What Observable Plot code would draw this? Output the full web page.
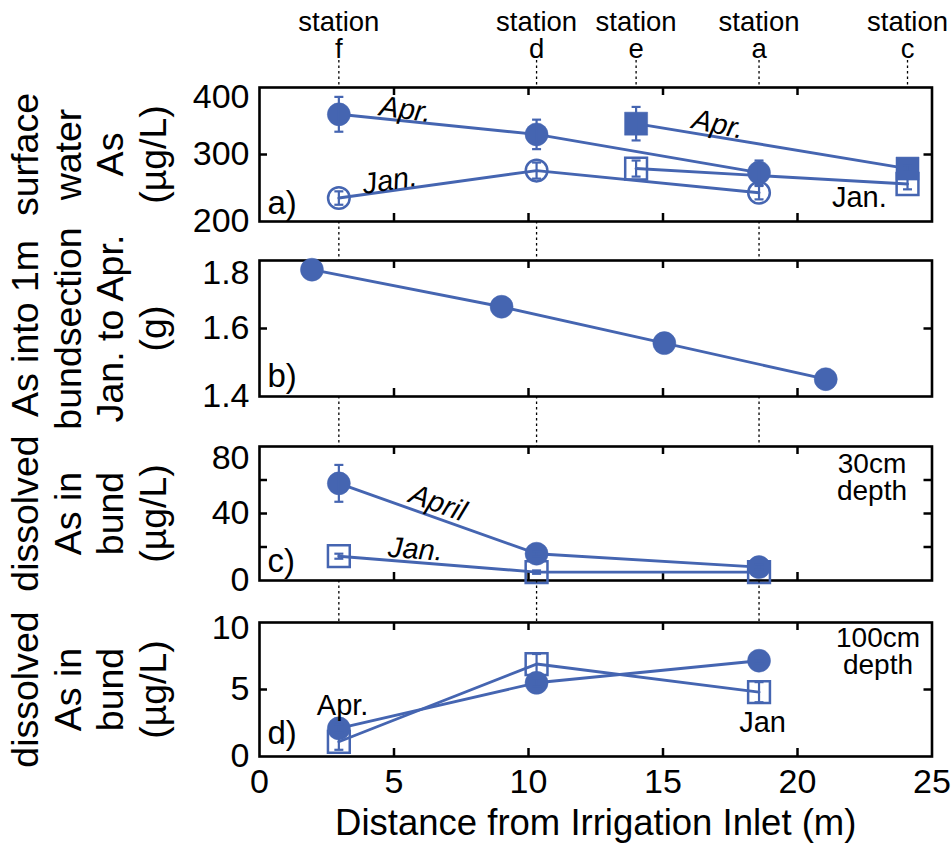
<!DOCTYPE html>
<html><head><meta charset="utf-8">
<script src="https://cdn.jsdelivr.net/npm/d3@7"></script>
<script src="https://cdn.jsdelivr.net/npm/@observablehq/plot@0.6"></script>
<style>
body{margin:0;background:#fff;}
#chart{position:relative;width:952px;height:843px;background:#fff;}
#chart svg{position:absolute;left:0;}
</style></head><body><div id="chart"></div>
<script>
// ---------- data ----------
const stationNames = ["f", "d", "e", "a", "c"];
const stationX = [2.95, 10.3, 14.0, 18.57, 24.09];
const xTicks = [0, 5, 10, 15, 20, 25];

// panel a) surface water As (µg/L)
const aCircleStations = ["f", "d", "a"];
const aAprCircle = [360, 330, 273];
const aAprCircleErr = [26, 22, 18];
const aJanCircle = [235, 276, 243];
const aJanCircleErr = [10, 12, 10];
const aSquareStations = ["e", "c"];
const aAprSquare = [346, 279];
const aAprSquareErr = [25, 5];
const aJanSquare = [279, 256];
const aJanSquareErr = [12, 8];
const aYTicks = [200, 300, 400];

// panel b) As into 1m bundsection Jan. to Apr. (g)
const bX = [1.95, 9.0, 15.05, 21.05];
const bY = [1.773, 1.664, 1.557, 1.451];
const bYTicks = [1.4, 1.6, 1.8];

// panel c) dissolved As in bund, 30cm depth (µg/L)
const cStations = ["f", "d", "a"];
const cApr = [58, 16, 8];
const cAprErr = [11, 1.5, 1.5];
const cJan = [14.5, 5, 5];
const cJanErr = [1.5, 1, 1];
const cYTicks = [0, 20, 40, 60, 80];
const cYLabels = [0, 40, 80];

// panel d) dissolved As in bund, 100cm depth (µg/L)
const dStations = ["f", "d", "a"];
const dApr = [2.1, 5.5, 7.15];
const dAprErr = [0.3, 0.3, 0.2];
const dJan = [1.1, 6.9, 4.8];
const dJanErr = [0.6, 0.75, 0.75];
const dYTicks = [0, 5, 10];

// annotations
const aNotesItalic = [
  {x: 5.43, y: 367, text: "Apr.", rotate: 8},
  {x: 17.05, y: 345, text: "Apr.", rotate: 12},
  {x: 4.84, y: 261, text: "Jan.", rotate: -9}
];
const aNotes = [{x: 22.3, y: 235, text: "Jan.", rotate: 0}];
const cNotesItalic = [
  {x: 6.63, y: 46.3, text: "April", rotate: 20},
  {x: 5.8, y: 18.5, text: "Jan.", rotate: 4}
];
const dNotes = [
  {x: 3.09, y: 3.8, text: "Apr.", rotate: 0},
  {x: 18.7, y: 2.5, text: "Jan", rotate: 0}
];

// ---------- styling ----------
const blue = "#4565b1";
const FONT = "'Liberation Sans', Arial, Helvetica, sans-serif";
const W = 952, ML = 259, MR = 20.5, PW = W - ML - MR;
const sx = Object.fromEntries(stationNames.map((n, i) => [n, stationX[i]]));
const capSymbol = {draw(ctx, size) { const r = Math.sqrt(size / Math.PI); ctx.moveTo(-r, 0); ctx.lineTo(r, 0); }};

function rows(xs, ys, es) { return xs.map((x, i) => ({x, y: ys[i], e: es ? es[i] : 0})); }

function series(data, {symbol, filled, err = true}) {
  const r = symbol === "square" ? (filled ? 13 : 12.3) : (filled ? 11.5 : 10.8);
  const m = [
    Plot.line(data, {x: "x", y: "y", stroke: blue, strokeWidth: 2.9}),
    filled
      ? Plot.dot(data, {x: "x", y: "y", symbol, r, fill: blue, stroke: blue, strokeWidth: 0.5})
      : Plot.dot(data, {x: "x", y: "y", symbol, r, fill: "none", stroke: blue, strokeWidth: 2.5})
  ];
  if (err) {
    m.push(
      Plot.ruleX(data, {x: "x", y1: d => d.y - d.e, y2: d => d.y + d.e, stroke: blue, strokeWidth: 2.2}),
      Plot.dot(data, {x: "x", y: d => d.y + d.e, symbol: capSymbol, r: 4.5, stroke: blue, strokeWidth: 2.2}),
      Plot.dot(data, {x: "x", y: d => d.y - d.e, symbol: capSymbol, r: 4.5, stroke: blue, strokeWidth: 2.2})
    );
  }
  return m;
}

function panel(cfg) {
  const H = cfg.marginTop + cfg.plotH + cfg.marginBottom;
  const yInner = cfg.yTicks.slice(1, -1);
  const labelsLow = cfg.yLabels.slice(0, -1);
  const labelTop = cfg.yLabels.slice(-1);
  const marks = [
    Plot.frame({stroke: "black", strokeWidth: 2.6}),
    Plot.ruleX(xTicks.slice(1, -1), {insetTop: cfg.plotH - 8, strokeWidth: 2.5}),
    Plot.ruleX(xTicks.slice(1, -1), {insetBottom: cfg.plotH - 8, strokeWidth: 2.5}),
    Plot.ruleY(yInner, {insetRight: PW - 8, strokeWidth: 2.5}),
    Plot.ruleY(yInner, {insetLeft: PW - 8, strokeWidth: 2.5}),
    Plot.axisY(labelsLow, {tickSize: 0, tickPadding: 10, label: null, fontSize: 34, tickFormat: cfg.fmt}),
    Plot.axisY(labelTop, {tickSize: 0, tickPadding: 10, label: null, fontSize: 34, dy: cfg.topShift, tickFormat: cfg.fmt}),
    Plot.ruleX(cfg.gapStations.map(n => sx[n]), {insetTop: -cfg.gapAbove, insetBottom: cfg.plotH, strokeWidth: 1.3, strokeDasharray: "2.5,3"}),
    Plot.text([cfg.title], {text: d => d, frameAnchor: "left", rotate: -90, dx: -252, textAnchor: "middle", lineAnchor: "top", lineHeight: 1.14, fontSize: 37.5}),
    Plot.text([cfg.tag], {text: d => d, frameAnchor: "bottom-left", textAnchor: "start", lineAnchor: "bottom", dx: 8, dy: cfg.tagDy, fontSize: 33}),
    ...cfg.marks
  ];
  const svg = Plot.plot({
    width: W, height: H, marginLeft: ML, marginRight: MR, marginTop: cfg.marginTop, marginBottom: cfg.marginBottom,
    x: {domain: [0, 25], axis: null},
    y: {domain: cfg.yDomain},
    style: {fontFamily: FONT, fontSize: "33px", background: "none", overflow: "visible", color: "black"},
    marks
  });
  svg.style.top = cfg.top + "px";
  return svg;
}

const chart = document.getElementById("chart");
const stations = stationNames.map((n, i) => ({name: n, x: stationX[i]}));

// panel a
chart.appendChild(panel({
  top: 0, marginTop: 87, plotH: 134, marginBottom: 30,
  yDomain: [200, 400], yTicks: aYTicks, yLabels: aYTicks, topShift: 10,
  gapStations: stationNames, gapAbove: 27,
  title: "surface\nwater\nAs\n(µg/L)", tag: "a)", tagDy: -8,
  marks: [
    Plot.text(stations, {x: "x", text: d => "station\n" + d.name, frameAnchor: "top", lineAnchor: "bottom", dy: -29.5, fontSize: 27.5, lineHeight: 1.0}),
    ...series(rows(aCircleStations.map(n => sx[n]), aJanCircle, aJanCircleErr), {symbol: "circle", filled: false}),
    ...series(rows(aSquareStations.map(n => sx[n]), aJanSquare, aJanSquareErr), {symbol: "square", filled: false}),
    ...series(rows(aCircleStations.map(n => sx[n]), aAprCircle, aAprCircleErr), {symbol: "circle", filled: true}),
    ...series(rows(aSquareStations.map(n => sx[n]), aAprSquare, aAprSquareErr), {symbol: "square", filled: true}),
    Plot.text(aNotesItalic, {x: "x", y: "y", text: "text", rotate: "rotate", fontSize: 29, fontStyle: "italic"}),
    Plot.text(aNotes, {x: "x", y: "y", text: "text", fontSize: 29})
  ]
}));

// panel b
chart.appendChild(panel({
  top: 221, marginTop: 39, plotH: 136, marginBottom: 20,
  yDomain: [1.4, 1.8], yTicks: bYTicks, yLabels: bYTicks, topShift: 13, fmt: d3.format(".1f"),
  gapStations: ["f", "d", "a"], gapAbove: 39,
  title: "As into 1m\nbundsection\nJan. to Apr.\n(g)", tag: "b)", tagDy: -10,
  marks: [
    ...series(rows(bX, bY, null), {symbol: "circle", filled: true, err: false})
  ]
}));

// panel c
chart.appendChild(panel({
  top: 396, marginTop: 50, plotH: 134, marginBottom: 20,
  yDomain: [0, 80], yTicks: cYTicks, yLabels: cYLabels, topShift: 12,
  gapStations: ["f", "d", "a"], gapAbove: 50,
  title: "dissolved\nAs in\nbund\n(µg/L)", tag: "c)", tagDy: -9,
  marks: [
    ...series(rows(cStations.map(n => sx[n]), cJan, cJanErr), {symbol: "square", filled: false}),
    ...series(rows(cStations.map(n => sx[n]), cApr, cAprErr), {symbol: "circle", filled: true}),
    Plot.text(cNotesItalic, {x: "x", y: "y", text: "text", rotate: "rotate", fontSize: 29, fontStyle: "italic"}),
    Plot.text(["30cm\ndepth"], {text: d => d, frameAnchor: "top-right", textAnchor: "middle", lineAnchor: "bottom", dx: -60, dy: 53, fontSize: 28, lineHeight: 0.93})
  ]
}));

// panel d
const dPanel = panel({
  top: 580, marginTop: 42, plotH: 134, marginBottom: 87,
  yDomain: [0, 10], yTicks: dYTicks, yLabels: dYTicks, topShift: 6,
  gapStations: ["f", "d", "a"], gapAbove: 42,
  title: "dissolved\nAs in\nbund\n(µg/L)", tag: "d)", tagDy: -13,
  marks: [
    ...series(rows(dStations.map(n => sx[n]), dJan, dJanErr), {symbol: "square", filled: false}),
    ...series(rows(dStations.map(n => sx[n]), dApr, dAprErr), {symbol: "circle", filled: true}),
    Plot.text(dNotes, {x: "x", y: "y", text: "text", fontSize: 29}),
    Plot.text(["100cm\ndepth"], {text: d => d, frameAnchor: "top-right", textAnchor: "middle", lineAnchor: "bottom", dx: -54, dy: 51, fontSize: 28, lineHeight: 0.93}),
    Plot.axisX(xTicks, {tickSize: 0, tickPadding: 12, label: null, fontSize: 34}),
    Plot.text(["Distance from Irrigation Inlet (m)"], {text: d => d, frameAnchor: "bottom", lineAnchor: "bottom", dy: 78, fontSize: 36.5})
  ]
});
chart.appendChild(dPanel);
</script></body></html>
